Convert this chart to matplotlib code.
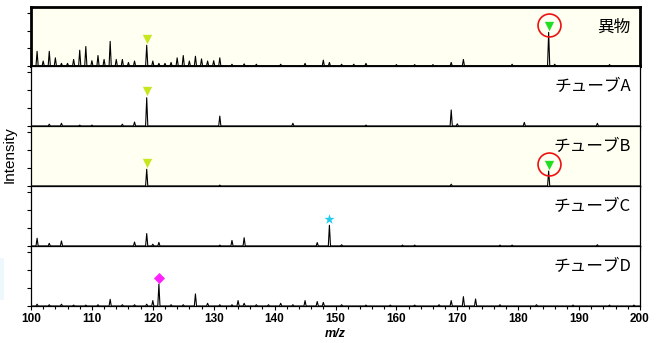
import matplotlib
matplotlib.use("Agg")
import matplotlib.pyplot as plt
from matplotlib.patches import Rectangle
import numpy as np

# panel names (top to bottom)
labels = ["異物", "チューブA", "チューブB", "チューブC", "チューブD"]
highlight = [True, False, True, False, False]

# peak lists: m/z and relative intensity (tick units 0..3)
foreign_mz = [101, 102, 103, 104, 105, 106, 107, 108, 109, 110, 111, 112, 113, 114,
              115, 116, 117, 119, 120, 121, 122, 123, 124, 125, 126, 127, 128, 129,
              130, 131, 133, 135, 137, 141, 145, 148, 149, 151, 153, 155, 160, 163,
              166, 169, 171, 179, 185, 186, 195]
foreign_int = [0.83, 0.28, 0.83, 0.46, 0.15, 0.15, 0.37, 0.89, 1.10, 0.30, 0.59, 0.37,
               1.39, 0.37, 0.37, 0.20, 0.28, 1.17, 0.28, 0.15, 0.15, 0.20, 0.46, 0.59,
               0.28, 0.55, 0.40, 0.28, 0.30, 0.46, 0.10, 0.12, 0.10, 0.10, 0.15, 0.33,
               0.20, 0.10, 0.10, 0.15, 0.08, 0.08, 0.08, 0.20, 0.37, 0.10, 1.90, 0.10,
               0.08]

tubeA_mz = [103, 105, 108, 110, 115, 117, 119, 131, 143, 155, 169, 170, 181, 193]
tubeA_int = [0.10, 0.15, 0.05, 0.05, 0.10, 0.22, 1.57, 0.55, 0.15, 0.05, 0.89, 0.12,
             0.20, 0.15]

tubeB_mz = [119, 131, 169, 185]
tubeB_int = [0.93, 0.05, 0.10, 0.83]

tubeC_mz = [101, 103, 105, 117, 119, 120, 121, 131, 133, 135, 147, 149, 151, 161,
            163, 177, 179, 193]
tubeC_int = [0.43, 0.15, 0.28, 0.22, 0.69, 0.10, 0.20, 0.05, 0.31, 0.46, 0.19, 1.15,
             0.07, 0.05, 0.05, 0.05, 0.05, 0.07]

tubeD_mz = [101, 103, 105, 107, 109, 111, 113, 115, 117, 119, 120, 121, 123, 125,
            127, 129, 131, 133, 134, 135, 137, 139, 141, 143, 145, 147, 148, 151,
            155, 159, 163, 167, 169, 171, 173, 177, 183, 189, 195, 199]
tubeD_int = [0.10, 0.07, 0.10, 0.05, 0.05, 0.07, 0.37, 0.07, 0.07, 0.10, 0.30, 1.22,
             0.07, 0.07, 0.67, 0.15, 0.07, 0.07, 0.30, 0.15, 0.07, 0.07, 0.15, 0.07,
             0.30, 0.25, 0.20, 0.07, 0.05, 0.05, 0.05, 0.07, 0.30, 0.52, 0.39, 0.07,
             0.07, 0.05, 0.05, 0.05]

spectra = [(foreign_mz, foreign_int), (tubeA_mz, tubeA_int), (tubeB_mz, tubeB_int),
           (tubeC_mz, tubeC_int), (tubeD_mz, tubeD_int)]

# annotated peaks: (panel, m/z, marker, colour, circled)
marks = [
    (0, 119, "v", "#c8e61e", False),
    (0, 185, "v", "#22dd22", True),
    (1, 119, "v", "#c8e61e", False),
    (2, 119, "v", "#c8e61e", False),
    (2, 185, "v", "#22dd22", True),
    (3, 149, "*", "#22ccee", False),
    (4, 121, "D", "#ff22ff", False),
]

plt.rcParams["font.family"] = ["Liberation Sans", "DejaVu Sans"]
jp = ["Noto Sans CJK JP", "DejaVu Sans"]

fig = plt.figure(figsize=(6.56, 3.43), dpi=100)
W, H = 656.0, 343.0
left, right = 31 / W, 640 / W
tops = [7, 66, 126, 186, 246]
bottoms = [66, 126, 186, 246, 306]

# faint artifact at the left edge
fig.patches.append(Rectangle((0, 1 - 300 / H), 4 / W, 42 / H, transform=fig.transFigure,
                             facecolor="#eef8fc", edgecolor="none"))

axes = []
for i, (mz, inten) in enumerate(spectra):
    ax = fig.add_axes([left, 1 - bottoms[i] / H, right - left, (bottoms[i] - tops[i]) / H])
    axes.append(ax)
    if highlight[i]:
        ax.set_facecolor("#fffff2")
    # build spike profile
    xs, ys = [100], [0]
    for m, h in sorted(zip(mz, inten)):
        xs += [m - 0.18, m, m + 0.18]
        ys += [0, h, 0]
    xs.append(200)
    ys.append(0)
    ax.plot(xs, ys, color="black", lw=0.8)
    ax.set_xlim(100, 200)
    ax.set_ylim(0, 3.33)
    ax.set_yticks([0, 1, 2, 3])
    ax.set_yticklabels([])
    ax.set_xticks(np.arange(100, 201, 10))
    ax.set_xticks(np.arange(100, 201, 2), minor=True)
    ax.tick_params(axis="both", which="both", direction="out", length=3, width=0.8)
    ax.tick_params(axis="x", which="minor", length=2.5)
    if i < 4:
        ax.set_xticklabels([])
    else:
        ax.tick_params(axis="x", labelsize=8.5, pad=2)
        for t in ax.get_xticklabels():
            t.set_fontweight("bold")
    lw = 2.0 if i == 0 else 0.9
    for s in ax.spines.values():
        s.set_linewidth(lw)
    ax.text(0.985, 0.66, labels[i], transform=ax.transAxes, ha="right", va="center",
            fontsize=12, family=jp)

for p, m, mk, col, circ in marks:
    ax = axes[p]
    mz, inten = spectra[p]
    h = inten[mz.index(m)]
    size = 60 if mk == "*" else (32 if mk == "D" else 45)
    ax.scatter([m], [h + 0.35], marker=mk, s=size, color=col, zorder=5, linewidths=0)
    if circ:
        ax.plot([m], [h + 0.4], marker="o", ms=16.5, mfc="none", mec="#ee1111",
                mew=1.2, zorder=6)

axes[-1].set_xlabel("m/z", fontsize=9, fontstyle="italic", fontweight="bold", labelpad=2)
fig.text(10 / W, 1 - 155 / H, "Intensity", rotation=90, ha="center", va="center",
         fontsize=11)

fig.savefig("out.png", dpi=100)
